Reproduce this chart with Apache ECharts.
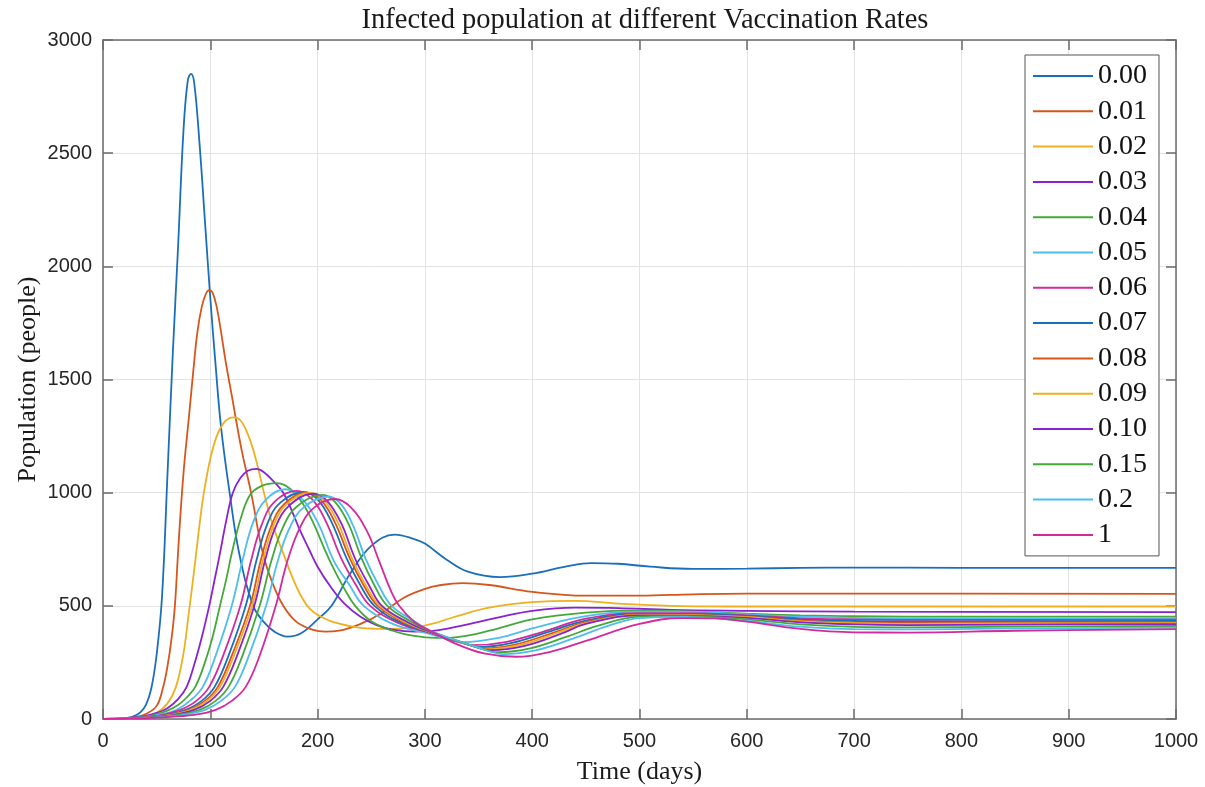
<!DOCTYPE html>
<html>
<head>
<meta charset="utf-8">
<script src="https://cdn.jsdelivr.net/npm/echarts@6/dist/echarts.min.js"></script>
<style>
  html, body { margin: 0; padding: 0; background: #fff; }
  #chart { width: 1205px; height: 787px; }
</style>
</head>
<body>
<div id="chart"></div>
<script>
// vaccination rates shown in the legend
var rates = ['0.00', '0.01', '0.02', '0.03', '0.04', '0.05', '0.06', '0.07', '0.08', '0.09', '0.10', '0.15', '0.2', '1'];

// infected population, [day, people]
var infected000 = [[0,0],[20,3],[25,7],[30,15],[35,30],[40,62],[45,135],[50,285],[55,540],[60,1070],[65,1610],[70,2090],[75,2600],[79,2820],[82,2850],[85,2810],[90,2540],[95,2200],[100,1860],[105,1560],[110,1290],[118,1000],[127,730],[140,500],[150,428],[160,385],[172,364],[185,380],[200,440],[213,500],[230,640],[250,765],[272,815],[290,795],[300,775],[320,705],[340,651],[370,627],[400,642],[430,672],[455,689],[480,686],[510,673],[550,663],[600,664],[650,668],[700,669],[800,668],[1000,668]];
var infected001 = [[0,0],[20,2],[30,8],[40,22],[50,58],[56,140],[60,230],[64,360],[67,500],[70,740],[73,960],[76,1140],[80,1330],[84,1530],[88,1710],[92,1820],[96,1880],[99,1895],[102,1885],[106,1820],[110,1710],[115,1560],[120,1430],[124,1321],[130,1170],[138,1000],[149,732],[158,600],[168,500],[180,430],[195,395],[207,386],[220,390],[240,420],[260,468],[280,535],[300,575],[315,592],[335,600],[360,592],[400,562],[450,545],[500,545],[550,551],[600,554],[700,554],[1000,553]];
var infected002 = [[0,0],[20,2],[30,5],[40,12],[50,28],[60,68],[68,142],[75,290],[80,470],[84,620],[87,740],[90,860],[94,1000],[100,1150],[106,1250],[112,1305],[118,1330],[122,1333],[128,1320],[134,1270],[140,1190],[145,1100],[150,1000],[158,860],[168,732],[177,620],[185,540],[193,485],[202,455],[215,428],[240,403],[265,398],[290,405],[310,425],[330,455],[360,492],[400,516],[440,522],[480,510],[540,499],[600,497],[1000,497]];
var infected003 = [[0,0],[20,3],[30,7],[40,14],[50,27],[60,48],[70,88],[78,142],[85,240],[92,360],[99,500],[104,615],[109,732],[115,880],[121,1000],[128,1065],[135,1097],[143,1105],[150,1090],[160,1045],[168,1000],[176,920],[183,840],[192,750],[200,673],[212,585],[225,510],[240,452],[255,415],[270,395],[290,386],[305,388],[320,398],[340,418],[370,450],[400,478],[440,492],[480,490],[530,482],[600,478],[700,474],[1000,472]];
var infected004 = [[0,0],[20,2],[30,5],[40,11],[50,21],[60,37],[70,62],[78,95],[86,142],[95,250],[102,360],[109,500],[115,620],[120,732],[128,880],[137,990],[148,1030],[162,1042],[175,1015],[185,960],[192,905],[199,835],[207,745],[214,673],[225,575],[235,500],[250,432],[270,390],[290,367],[310,358],[330,362],[360,390],[400,440],[450,470],[500,480],[550,474],[600,465],[650,458],[700,454],[800,452],[1000,452]];
var infected005 = [[0,0],[20,2],[30,4],[40,9],[53,20],[68,40],[81,80],[93,142],[105,280],[120,500],[130,700],[140,870],[152,970],[170,1015],[185,975],[200,870],[215,700],[230,590],[243,500],[270,420],[305,375],[335,340],[370,360],[400,400],[450,455],[500,474],[540,474],[600,462],[650,452],[700,447],[750,445],[850,445],[1000,445]];
var infected006 = [[0,0],[20,2],[30,4],[40,8],[55,18],[72,40],[87,80],[99,142],[112,280],[128,500],[138,700],[148,860],[160,960],[180,1008],[195,970],[208,870],[222,710],[236,590],[249,500],[275,425],[305,380],[330,342],[345,326],[375,340],[410,385],[450,443],[500,468],[540,468],[600,458],[650,445],[700,440],[750,438],[850,438],[1000,439]];
var infected007 = [[0,0],[20,2],[30,3],[40,7],[60,18],[77,40],[92,80],[104,142],[117,280],[133,500],[143,700],[153,860],[165,955],[187,1003],[200,970],[213,870],[227,710],[240,590],[253,500],[278,425],[305,382],[335,338],[350,318],[380,335],[415,385],[450,435],[500,465],[540,464],[600,455],[650,440],[700,433],[750,431],[850,432],[1000,433]];
var infected008 = [[0,0],[20,2],[30,3],[40,6],[62,18],[80,40],[95,80],[107,142],[120,280],[137,500],[147,700],[157,855],[169,950],[190,1000],[203,968],[216,870],[230,710],[243,590],[256,500],[281,425],[305,383],[340,330],[355,312],[385,330],[420,382],[450,428],[500,462],[540,461],[600,452],[650,435],[700,427],[750,425],[850,426],[1000,428]];
var infected009 = [[0,0],[20,2],[30,3],[40,6],[64,18],[82,40],[97,80],[109,142],[122,280],[139,500],[149,700],[159,855],[171,948],[193,999],[206,966],[219,868],[232,710],[245,590],[258,500],[283,425],[305,384],[342,326],[358,308],[388,326],[423,380],[450,424],[500,460],[540,459],[600,450],[650,431],[700,423],[750,420],[850,422],[1000,424]];
var infected010 = [[0,0],[20,1],[30,3],[40,5],[66,18],[85,40],[100,80],[112,142],[125,280],[141,500],[151,700],[161,850],[174,945],[196,996],[209,963],[222,865],[235,708],[248,590],[260,500],[285,425],[305,385],[345,322],[362,304],[392,322],[427,377],[450,420],[500,458],[540,457],[600,447],[650,427],[700,418],[750,415],[850,417],[1000,419]];
var infected015 = [[0,0],[20,1],[30,2],[40,4],[70,18],[90,40],[105,80],[117,142],[130,280],[146,500],[157,700],[168,850],[181,940],[205,990],[217,955],[229,860],[241,710],[253,590],[265,500],[288,428],[305,388],[350,315],[368,295],[398,312],[433,365],[460,410],[500,452],[540,454],[600,440],[650,418],[700,407],[750,405],[850,408],[1000,411]];
var infected020 = [[0,0],[20,1],[30,2],[40,4],[75,18],[95,40],[110,80],[123,142],[136,280],[152,500],[163,700],[174,845],[187,935],[210,983],[222,948],[233,855],[245,705],[257,590],[269,500],[291,430],[305,390],[355,307],[373,287],[403,303],[438,355],[470,410],[500,446],[540,451],[600,433],[650,408],[700,397],[750,396],[850,400],[1000,404]];
var infected100 = [[0,0],[20,1],[30,2],[40,3],[50,6],[85,18],[105,40],[120,80],[133,142],[146,280],[161,500],[172,700],[184,850],[197,935],[216,972],[231,935],[246,830],[258,690],[268,570],[276,500],[290,430],[305,390],[330,330],[355,290],[385,275],[417,297],[450,345],[500,420],[540,446],[570,445],[600,430],[650,398],[700,383],[750,382],[850,390],[1000,397]];

var xTicks = { min: 0, max: 1000, step: 100 };
var yTicks = { min: 0, max: 3000, step: 500 };

var allSeries = [infected000, infected001, infected002, infected003, infected004, infected005, infected006,
    infected007, infected008, infected009, infected010, infected015, infected020, infected100];
var palette = ['#1a6fbd', '#d6561c', '#edb120', '#8a22d2', '#44a83a', '#4dbeee', '#d4299c'];

var chart = echarts.init(document.getElementById('chart'), null, { renderer: 'canvas' });

var axisColor = '#6b6b6b';
var serif = 'Liberation Serif, Times New Roman, serif';
var labelFont = {
    fontFamily: 'Liberation Sans, Arial, sans-serif', fontSize: 20, color: '#262626',
    formatter: function (v) { return String(v); }
};

function frameAxis(pos, ticks) {
    return {
        type: 'value', position: pos,
        min: ticks.min, max: ticks.max, interval: ticks.step,
        axisLine: { show: true, onZero: false, lineStyle: { color: axisColor, width: 1.5 } },
        axisTick: { show: true, inside: true, length: 10, lineStyle: { color: axisColor, width: 1.5 } },
        axisLabel: { show: false },
        splitLine: { show: false }
    };
}

var series = allSeries.map(function (data, i) {
    return {
        name: rates[i],
        type: 'line',
        data: data,
        symbol: 'none',
        smooth: 0.4,
        lineStyle: { width: 1.8, color: palette[i % palette.length] },
        itemStyle: { color: palette[i % palette.length] },
        z: 3
    };
});

var option = {
    backgroundColor: '#fff',
    animation: false,
    title: {
        text: 'Infected population at different Vaccination Rates',
        left: 640, top: 1, textAlign: 'center',
        textStyle: { fontFamily: serif, fontSize: 28.5, fontWeight: 'normal', color: '#1a1a1a' }
    },
    grid: { left: 103, right: 29, top: 40, bottom: 68, containLabel: false, outerBoundsMode: 'none' },
    legend: {
        orient: 'vertical',
        left: 1025, top: 55,
        padding: [7, 12, 7, 8],
        backgroundColor: '#fff',
        borderColor: '#555',
        borderWidth: 1,
        borderRadius: 0,
        itemWidth: 60, itemHeight: 2,
        itemGap: 7.3,
        itemTextGap: 5,
        icon: 'rect',
        textStyle: { fontFamily: serif, fontSize: 28, lineHeight: 28, color: '#111' },
        data: rates
    },
    xAxis: [
        {
            type: 'value', position: 'bottom',
            min: xTicks.min, max: xTicks.max, interval: xTicks.step,
            name: 'Time (days)', nameLocation: 'middle', nameGap: 40, nameMoveOverlap: false,
            nameTextStyle: { fontFamily: serif, fontSize: 26, color: '#1a1a1a' },
            axisLine: { show: true, onZero: false, lineStyle: { color: axisColor, width: 1.5 } },
            axisTick: { show: true, inside: true, length: 10, lineStyle: { color: axisColor, width: 1.5 } },
            axisLabel: Object.assign({ margin: 12 }, labelFont),
            splitLine: { show: true, lineStyle: { color: '#e3e3e3', width: 1 } }
        },
        frameAxis('top', xTicks)
    ],
    yAxis: [
        {
            type: 'value', position: 'left',
            min: yTicks.min, max: yTicks.max, interval: yTicks.step,
            name: 'Population (people)', nameLocation: 'middle', nameGap: 62, nameMoveOverlap: false,
            nameTextStyle: { fontFamily: serif, fontSize: 26, color: '#1a1a1a' },
            axisLine: { show: true, onZero: false, lineStyle: { color: axisColor, width: 1.5 } },
            axisTick: { show: true, inside: true, length: 10, lineStyle: { color: axisColor, width: 1.5 } },
            axisLabel: Object.assign({ margin: 11 }, labelFont),
            splitLine: { show: true, lineStyle: { color: '#e3e3e3', width: 1 } }
        },
        frameAxis('right', yTicks)
    ],
    series: series
};

chart.setOption(option);
</script>
</body>
</html>
